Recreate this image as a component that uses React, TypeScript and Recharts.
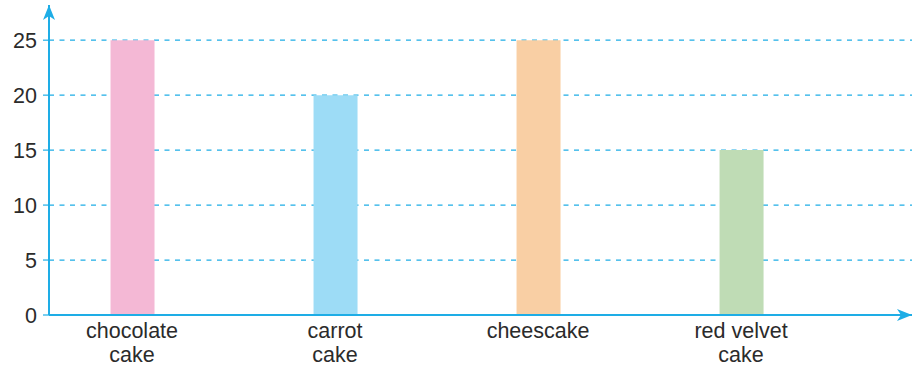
import React from 'react';
import { BarChart, Bar, XAxis, YAxis, CartesianGrid, Cell } from 'recharts';

// favourite cakes
const cakes = ['chocolate\ncake', 'carrot\ncake', 'cheescake', 'red velvet\ncake'];
const votes = [25, 20, 25, 15];
const barColors = ['#f4b8d5', '#9ddcf6', '#f9cfa4', '#bfdcb5'];
const yTicks = [0, 5, 10, 15, 20, 25];

const AXIS = '#1eade6';
const INK = '#2b2b2b';
const FONT = '"Liberation Sans", Arial, Helvetica, sans-serif';

const data = cakes.map((name, i) => ({ idx: i, name, votes: votes[i] }));

const CakeTick = (props: any) => {
  const { x, y, payload } = props;
  const lines = String(cakes[payload.value] ?? '').split('\n');
  return (
    <text x={x} y={y} textAnchor="middle" fill={INK} fontSize={21.5} fontFamily={FONT}>
      {lines.map((l, i) => (
        <tspan key={i} x={x} dy={i === 0 ? 23 : 24}>{l}</tspan>
      ))}
    </text>
  );
};

export default function App() {
  return (
    <div style={{ position: 'absolute', left: 0, top: 0, background: '#fff' }}>
      <BarChart
        width={915}
        height={369}
        data={data}
        margin={{ top: 5, right: 3, left: 0, bottom: 0 }}
      >
        <defs>
          <marker
            id="arrowHead"
            viewBox="0 0 15 12"
            refX={15}
            refY={6}
            markerWidth={15}
            markerHeight={12}
            markerUnits="userSpaceOnUse"
            orient="auto-start-reverse"
          >
            <path d="M0,0 L15,6 L0,12 L4,6 Z" fill={AXIS} />
          </marker>
        </defs>
        <CartesianGrid
          vertical={false}
          horizontalValues={yTicks}
          stroke={AXIS}
          strokeDasharray="5 5.5"
          strokeWidth={1.2}
        />
        <XAxis
          dataKey="idx"
          type="number"
          domain={[-0.409, 3.842]}
          ticks={[0, 1, 2, 3]}
          allowDataOverflow
          height={54}
          tickLine={false}
          tickSize={0}
          tickMargin={0}
          tick={<CakeTick />}
          axisLine={{ stroke: AXIS, strokeWidth: 2, markerEnd: 'url(#arrowHead)' } as any}
        />
        <YAxis
          type="number"
          domain={[0, 28.2]}
          ticks={yTicks}
          allowDataOverflow
          width={49}
          tickSize={6}
          tickMargin={6}
          tickLine={{ stroke: AXIS, strokeWidth: 1.2 }}
          tick={{ fill: INK, fontSize: 21.5, fontFamily: FONT }}
          axisLine={{ stroke: AXIS, strokeWidth: 2, markerStart: 'url(#arrowHead)' } as any}
        />
        <Bar dataKey="votes" barSize={44} isAnimationActive={false}>
          {data.map((d, i) => (
            <Cell key={d.name} fill={barColors[i]} />
          ))}
        </Bar>
      </BarChart>
    </div>
  );
}
